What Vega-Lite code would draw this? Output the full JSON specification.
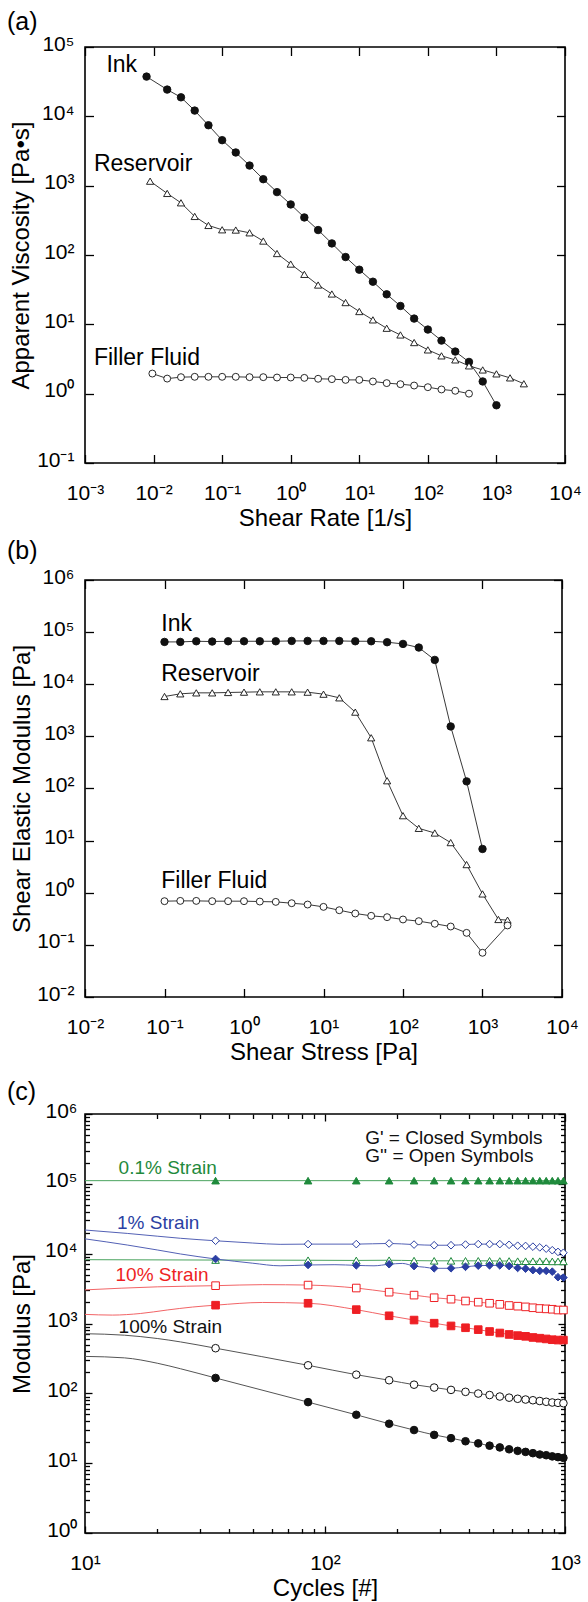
{
"$schema": "https://vega.github.io/schema/vega-lite/v6.json",
"autosize": {"type": "none"},
"padding": {"left": 85, "top": 47, "right": 503, "bottom": 1555},
"background": "white",
"config": {
  "font": "Liberation Sans",
  "view": {"stroke": "black", "strokeWidth": 1.6},
  "axis": {"grid": false, "domain": false, "tickColor": "black", "tickWidth": 1.3, "labelColor": "black", "titleColor": "black", "labelFont": "Liberation Sans", "titleFont": "Liberation Sans", "labelFontSize": 21, "titleFontSize": 24, "titleFontWeight": "normal", "labelFlush": false, "labelOverlap": false, "labelBound": false},
  "title": {"font": "Liberation Sans", "fontSize": 25, "fontWeight": "normal", "color": "black"}
},
"datasets": {
"a": [
{"s":"Ink","x":0.0079,"y":37400},{"s":"Ink","x":0.0158,"y":24300},{"s":"Ink","x":0.0251,"y":18800},{"s":"Ink","x":0.0398,"y":12100},{"s":"Ink","x":0.0631,"y":7440},{"s":"Ink","x":0.1,"y":4530},{"s":"Ink","x":0.158,"y":3010},{"s":"Ink","x":0.251,"y":1950},{"s":"Ink","x":0.398,"y":1240},{"s":"Ink","x":0.631,"y":807},{"s":"Ink","x":1,"y":536},{"s":"Ink","x":1.58,"y":348},{"s":"Ink","x":2.51,"y":229},{"s":"Ink","x":3.98,"y":147},{"s":"Ink","x":6.31,"y":93.5},{"s":"Ink","x":10,"y":61.4},{"s":"Ink","x":15.8,"y":41.2},{"s":"Ink","x":25.1,"y":27.1},{"s":"Ink","x":39.8,"y":18.4},{"s":"Ink","x":63.1,"y":12.1},{"s":"Ink","x":100,"y":8.4},{"s":"Ink","x":158,"y":5.83},{"s":"Ink","x":251,"y":4.05},{"s":"Ink","x":398,"y":2.87},{"s":"Ink","x":631,"y":1.5},{"s":"Ink","x":1000,"y":0.68},
{"s":"Reservoir","x":0.0089,"y":1160},{"s":"Reservoir","x":0.0158,"y":773},{"s":"Reservoir","x":0.0251,"y":566},{"s":"Reservoir","x":0.0398,"y":360},{"s":"Reservoir","x":0.0631,"y":267},{"s":"Reservoir","x":0.1,"y":231},{"s":"Reservoir","x":0.158,"y":229},{"s":"Reservoir","x":0.251,"y":209},{"s":"Reservoir","x":0.398,"y":159},{"s":"Reservoir","x":0.631,"y":105},{"s":"Reservoir","x":1,"y":74},{"s":"Reservoir","x":1.58,"y":52.6},{"s":"Reservoir","x":2.51,"y":36.9},{"s":"Reservoir","x":3.98,"y":27.4},{"s":"Reservoir","x":6.31,"y":20.6},{"s":"Reservoir","x":10,"y":15.3},{"s":"Reservoir","x":15.8,"y":11.6},{"s":"Reservoir","x":25.1,"y":8.78},{"s":"Reservoir","x":39.8,"y":7.03},{"s":"Reservoir","x":63.1,"y":5.46},{"s":"Reservoir","x":100,"y":4.28},{"s":"Reservoir","x":158,"y":3.51},{"s":"Reservoir","x":251,"y":3.07},{"s":"Reservoir","x":398,"y":2.52},{"s":"Reservoir","x":631,"y":2.2},{"s":"Reservoir","x":1000,"y":1.93},{"s":"Reservoir","x":1580,"y":1.69},{"s":"Reservoir","x":2510,"y":1.39},
{"s":"Filler Fluid","x":0.0096,"y":1.95},{"s":"Filler Fluid","x":0.0158,"y":1.65},{"s":"Filler Fluid","x":0.0251,"y":1.73},{"s":"Filler Fluid","x":0.0398,"y":1.75},{"s":"Filler Fluid","x":0.0631,"y":1.75},{"s":"Filler Fluid","x":0.1,"y":1.75},{"s":"Filler Fluid","x":0.158,"y":1.75},{"s":"Filler Fluid","x":0.251,"y":1.73},{"s":"Filler Fluid","x":0.398,"y":1.73},{"s":"Filler Fluid","x":0.631,"y":1.71},{"s":"Filler Fluid","x":1,"y":1.71},{"s":"Filler Fluid","x":1.58,"y":1.69},{"s":"Filler Fluid","x":2.51,"y":1.64},{"s":"Filler Fluid","x":3.98,"y":1.62},{"s":"Filler Fluid","x":6.31,"y":1.58},{"s":"Filler Fluid","x":10,"y":1.58},{"s":"Filler Fluid","x":15.8,"y":1.5},{"s":"Filler Fluid","x":25.1,"y":1.42},{"s":"Filler Fluid","x":39.8,"y":1.37},{"s":"Filler Fluid","x":63.1,"y":1.31},{"s":"Filler Fluid","x":100,"y":1.24},{"s":"Filler Fluid","x":158,"y":1.15},{"s":"Filler Fluid","x":251,"y":1.1},{"s":"Filler Fluid","x":398,"y":1.0}
],
"b": [
{"s":"Ink","x":0.1,"y":64900},{"s":"Ink","x":0.158,"y":64900},{"s":"Ink","x":0.251,"y":66800},{"s":"Ink","x":0.398,"y":65900},{"s":"Ink","x":0.631,"y":66800},{"s":"Ink","x":1,"y":66800},{"s":"Ink","x":1.58,"y":66800},{"s":"Ink","x":2.51,"y":66800},{"s":"Ink","x":3.98,"y":67800},{"s":"Ink","x":6.31,"y":67800},{"s":"Ink","x":10,"y":67800},{"s":"Ink","x":15.8,"y":67800},{"s":"Ink","x":25.1,"y":66800},{"s":"Ink","x":39.8,"y":66800},{"s":"Ink","x":63.1,"y":64000},{"s":"Ink","x":100,"y":59400},{"s":"Ink","x":158,"y":50600},{"s":"Ink","x":251,"y":29300},{"s":"Ink","x":398,"y":1550},{"s":"Ink","x":631,"y":137},{"s":"Ink","x":1000,"y":6.92},
{"s":"Reservoir","x":0.1,"y":5820},{"s":"Reservoir","x":0.158,"y":6550},{"s":"Reservoir","x":0.251,"y":6840},{"s":"Reservoir","x":0.398,"y":6840},{"s":"Reservoir","x":0.631,"y":6950},{"s":"Reservoir","x":1,"y":7050},{"s":"Reservoir","x":1.58,"y":7150},{"s":"Reservoir","x":2.51,"y":7150},{"s":"Reservoir","x":3.98,"y":7150},{"s":"Reservoir","x":6.31,"y":7050},{"s":"Reservoir","x":10,"y":6450},{"s":"Reservoir","x":15.8,"y":5490},{"s":"Reservoir","x":25.1,"y":2920},{"s":"Reservoir","x":39.8,"y":940},{"s":"Reservoir","x":63.1,"y":141},{"s":"Reservoir","x":100,"y":30.1},{"s":"Reservoir","x":158,"y":17.2},{"s":"Reservoir","x":251,"y":14.0},{"s":"Reservoir","x":398,"y":9.16},{"s":"Reservoir","x":631,"y":3.47},{"s":"Reservoir","x":1000,"y":0.95},{"s":"Reservoir","x":1585,"y":0.307},{"s":"Reservoir","x":2065,"y":0.298},
{"s":"Filler Fluid","x":0.1,"y":0.689},{"s":"Filler Fluid","x":0.158,"y":0.698},{"s":"Filler Fluid","x":0.251,"y":0.698},{"s":"Filler Fluid","x":0.398,"y":0.689},{"s":"Filler Fluid","x":0.631,"y":0.689},{"s":"Filler Fluid","x":1,"y":0.689},{"s":"Filler Fluid","x":1.58,"y":0.678},{"s":"Filler Fluid","x":2.51,"y":0.668},{"s":"Filler Fluid","x":3.98,"y":0.63},{"s":"Filler Fluid","x":6.31,"y":0.594},{"s":"Filler Fluid","x":10,"y":0.536},{"s":"Filler Fluid","x":15.8,"y":0.462},{"s":"Filler Fluid","x":25.1,"y":0.4},{"s":"Filler Fluid","x":39.8,"y":0.361},{"s":"Filler Fluid","x":63.1,"y":0.34},{"s":"Filler Fluid","x":100,"y":0.307},{"s":"Filler Fluid","x":158,"y":0.285},{"s":"Filler Fluid","x":251,"y":0.254},{"s":"Filler Fluid","x":398,"y":0.225},{"s":"Filler Fluid","x":631,"y":0.17},{"s":"Filler Fluid","x":1000,"y":0.0705},{"s":"Filler Fluid","x":2065,"y":0.236}
],
"la": [
{"t":"Ink","x":0.00205,"y":55100},{"t":"Reservoir","x":0.00135,"y":2020},{"t":"Filler Fluid","x":0.00135,"y":3.24}
],
"lb": [
{"t":"Ink","x":0.091,"y":143600},{"t":"Reservoir","x":0.091,"y":15600},{"t":"Filler Fluid","x":0.091,"y":1.66}
],
"lc": [
{"t":"0.1% Strain","st":"0.1%","x":13.8,"y":169000},{"t":"1% Strain","st":"1%","x":13.6,"y":27500},{"t":"10% Strain","st":"10%","x":13.4,"y":5000},{"t":"100% Strain","st":"100%","x":13.8,"y":902}
],
"lg": [
{"t":"G'  = Closed Symbols","x":147,"y":460000},{"t":"G'' = Open Symbols","x":147,"y":250000}
],
"c": [
{"st":"0.1%","g":"G1","x":10,"y":111000,"m":0},{"st":"0.1%","g":"G1","x":35,"y":111000,"m":1},{"st":"0.1%","g":"G1","x":85,"y":111000,"m":1},{"st":"0.1%","g":"G1","x":135,"y":111000,"m":1},{"st":"0.1%","g":"G1","x":185,"y":111000,"m":1},{"st":"0.1%","g":"G1","x":235,"y":111000,"m":1},{"st":"0.1%","g":"G1","x":285,"y":111000,"m":1},{"st":"0.1%","g":"G1","x":335,"y":111000,"m":1},{"st":"0.1%","g":"G1","x":385,"y":111000,"m":1},{"st":"0.1%","g":"G1","x":435,"y":111000,"m":1},{"st":"0.1%","g":"G1","x":485,"y":111000,"m":1},{"st":"0.1%","g":"G1","x":535,"y":111000,"m":1},{"st":"0.1%","g":"G1","x":585,"y":111000,"m":1},{"st":"0.1%","g":"G1","x":635,"y":111000,"m":1},{"st":"0.1%","g":"G1","x":685,"y":111000,"m":1},{"st":"0.1%","g":"G1","x":735,"y":111000,"m":1},{"st":"0.1%","g":"G1","x":785,"y":111000,"m":1},{"st":"0.1%","g":"G1","x":835,"y":111000,"m":1},{"st":"0.1%","g":"G1","x":885,"y":111000,"m":1},{"st":"0.1%","g":"G1","x":935,"y":111000,"m":1},{"st":"0.1%","g":"G1","x":985,"y":111000,"m":1},{"st":"0.1%","g":"G1","x":1000,"y":111000,"m":0},
{"st":"0.1%","g":"G2","x":10,"y":8200,"m":0},{"st":"0.1%","g":"G2","x":35,"y":8100,"m":1},{"st":"0.1%","g":"G2","x":85,"y":8050,"m":1},{"st":"0.1%","g":"G2","x":135,"y":8000,"m":1},{"st":"0.1%","g":"G2","x":185,"y":8050,"m":1},{"st":"0.1%","g":"G2","x":235,"y":7950,"m":1},{"st":"0.1%","g":"G2","x":285,"y":7900,"m":1},{"st":"0.1%","g":"G2","x":335,"y":7900,"m":1},{"st":"0.1%","g":"G2","x":385,"y":7900,"m":1},{"st":"0.1%","g":"G2","x":435,"y":7900,"m":1},{"st":"0.1%","g":"G2","x":485,"y":7900,"m":1},{"st":"0.1%","g":"G2","x":535,"y":7850,"m":1},{"st":"0.1%","g":"G2","x":585,"y":7850,"m":1},{"st":"0.1%","g":"G2","x":635,"y":7800,"m":1},{"st":"0.1%","g":"G2","x":685,"y":7800,"m":1},{"st":"0.1%","g":"G2","x":735,"y":7800,"m":1},{"st":"0.1%","g":"G2","x":785,"y":7800,"m":1},{"st":"0.1%","g":"G2","x":835,"y":7800,"m":1},{"st":"0.1%","g":"G2","x":885,"y":7750,"m":1},{"st":"0.1%","g":"G2","x":935,"y":7750,"m":1},{"st":"0.1%","g":"G2","x":985,"y":7750,"m":1},{"st":"0.1%","g":"G2","x":1000,"y":7750,"m":0},
{"st":"1%","g":"G2","x":10,"y":21800,"m":0},{"st":"1%","g":"G2","x":15,"y":19500,"m":0},{"st":"1%","g":"G2","x":20,"y":17800,"m":0},{"st":"1%","g":"G2","x":25,"y":16600,"m":0},{"st":"1%","g":"G2","x":35,"y":15300,"m":1},{"st":"1%","g":"G2","x":50,"y":14200,"m":0},{"st":"1%","g":"G2","x":65,"y":13600,"m":0},{"st":"1%","g":"G2","x":85,"y":13700,"m":1},{"st":"1%","g":"G2","x":135,"y":13700,"m":1},{"st":"1%","g":"G2","x":185,"y":14000,"m":1},{"st":"1%","g":"G2","x":235,"y":13500,"m":1},{"st":"1%","g":"G2","x":285,"y":13200,"m":1},{"st":"1%","g":"G2","x":335,"y":13200,"m":1},{"st":"1%","g":"G2","x":385,"y":13500,"m":1},{"st":"1%","g":"G2","x":435,"y":13700,"m":1},{"st":"1%","g":"G2","x":485,"y":13700,"m":1},{"st":"1%","g":"G2","x":535,"y":13700,"m":1},{"st":"1%","g":"G2","x":585,"y":13400,"m":1},{"st":"1%","g":"G2","x":635,"y":13000,"m":1},{"st":"1%","g":"G2","x":685,"y":12900,"m":1},{"st":"1%","g":"G2","x":735,"y":12600,"m":1},{"st":"1%","g":"G2","x":785,"y":12300,"m":1},{"st":"1%","g":"G2","x":835,"y":11800,"m":1},{"st":"1%","g":"G2","x":885,"y":11200,"m":1},{"st":"1%","g":"G2","x":935,"y":10600,"m":1},{"st":"1%","g":"G2","x":985,"y":10300,"m":1},{"st":"1%","g":"G2","x":1000,"y":10200,"m":0},
{"st":"1%","g":"G1","x":10,"y":16300,"m":0},{"st":"1%","g":"G1","x":15,"y":13300,"m":0},{"st":"1%","g":"G1","x":20,"y":11300,"m":0},{"st":"1%","g":"G1","x":25,"y":9900,"m":0},{"st":"1%","g":"G1","x":35,"y":8400,"m":1},{"st":"1%","g":"G1","x":50,"y":7300,"m":0},{"st":"1%","g":"G1","x":65,"y":6700,"m":0},{"st":"1%","g":"G1","x":85,"y":6890,"m":1},{"st":"1%","g":"G1","x":110,"y":6950,"m":0},{"st":"1%","g":"G1","x":135,"y":6800,"m":1},{"st":"1%","g":"G1","x":160,"y":6700,"m":0},{"st":"1%","g":"G1","x":185,"y":7060,"m":1},{"st":"1%","g":"G1","x":210,"y":7250,"m":0},{"st":"1%","g":"G1","x":235,"y":6640,"m":1},{"st":"1%","g":"G1","x":260,"y":6400,"m":0},{"st":"1%","g":"G1","x":285,"y":6170,"m":1},{"st":"1%","g":"G1","x":335,"y":6170,"m":1},{"st":"1%","g":"G1","x":385,"y":6480,"m":1},{"st":"1%","g":"G1","x":435,"y":6730,"m":1},{"st":"1%","g":"G1","x":485,"y":6800,"m":1},{"st":"1%","g":"G1","x":535,"y":6800,"m":1},{"st":"1%","g":"G1","x":585,"y":6640,"m":1},{"st":"1%","g":"G1","x":635,"y":6250,"m":1},{"st":"1%","g":"G1","x":685,"y":6100,"m":1},{"st":"1%","g":"G1","x":735,"y":5810,"m":1},{"st":"1%","g":"G1","x":785,"y":5670,"m":1},{"st":"1%","g":"G1","x":835,"y":5670,"m":1},{"st":"1%","g":"G1","x":885,"y":5530,"m":1},{"st":"1%","g":"G1","x":935,"y":4600,"m":1},{"st":"1%","g":"G1","x":985,"y":4540,"m":1},{"st":"1%","g":"G1","x":1000,"y":4500,"m":0},
{"st":"10%","g":"G2","x":10,"y":3030,"m":0},{"st":"10%","g":"G2","x":20,"y":3350,"m":0},{"st":"10%","g":"G2","x":35,"y":3480,"m":1},{"st":"10%","g":"G2","x":55,"y":3600,"m":0},{"st":"10%","g":"G2","x":85,"y":3550,"m":1},{"st":"10%","g":"G2","x":135,"y":3220,"m":1},{"st":"10%","g":"G2","x":185,"y":2810,"m":1},{"st":"10%","g":"G2","x":235,"y":2550,"m":1},{"st":"10%","g":"G2","x":285,"y":2340,"m":1},{"st":"10%","g":"G2","x":335,"y":2230,"m":1},{"st":"10%","g":"G2","x":385,"y":2100,"m":1},{"st":"10%","g":"G2","x":435,"y":2020,"m":1},{"st":"10%","g":"G2","x":485,"y":1950,"m":1},{"st":"10%","g":"G2","x":535,"y":1880,"m":1},{"st":"10%","g":"G2","x":585,"y":1810,"m":1},{"st":"10%","g":"G2","x":635,"y":1770,"m":1},{"st":"10%","g":"G2","x":685,"y":1730,"m":1},{"st":"10%","g":"G2","x":735,"y":1680,"m":1},{"st":"10%","g":"G2","x":785,"y":1640,"m":1},{"st":"10%","g":"G2","x":835,"y":1620,"m":1},{"st":"10%","g":"G2","x":885,"y":1600,"m":1},{"st":"10%","g":"G2","x":935,"y":1560,"m":1},{"st":"10%","g":"G2","x":985,"y":1560,"m":1},{"st":"10%","g":"G2","x":1000,"y":1550,"m":0},
{"st":"10%","g":"G1","x":10,"y":1350,"m":0},{"st":"10%","g":"G1","x":13,"y":1320,"m":0},{"st":"10%","g":"G1","x":17,"y":1390,"m":0},{"st":"10%","g":"G1","x":22,"y":1560,"m":0},{"st":"10%","g":"G1","x":28,"y":1720,"m":0},{"st":"10%","g":"G1","x":35,"y":1830,"m":1},{"st":"10%","g":"G1","x":55,"y":2000,"m":0},{"st":"10%","g":"G1","x":85,"y":1950,"m":1},{"st":"10%","g":"G1","x":135,"y":1580,"m":1},{"st":"10%","g":"G1","x":185,"y":1290,"m":1},{"st":"10%","g":"G1","x":235,"y":1120,"m":1},{"st":"10%","g":"G1","x":285,"y":1010,"m":1},{"st":"10%","g":"G1","x":335,"y":923,"m":1},{"st":"10%","g":"G1","x":385,"y":869,"m":1},{"st":"10%","g":"G1","x":435,"y":817,"m":1},{"st":"10%","g":"G1","x":485,"y":768,"m":1},{"st":"10%","g":"G1","x":535,"y":731,"m":1},{"st":"10%","g":"G1","x":585,"y":697,"m":1},{"st":"10%","g":"G1","x":635,"y":671,"m":1},{"st":"10%","g":"G1","x":685,"y":655,"m":1},{"st":"10%","g":"G1","x":735,"y":631,"m":1},{"st":"10%","g":"G1","x":785,"y":616,"m":1},{"st":"10%","g":"G1","x":835,"y":601,"m":1},{"st":"10%","g":"G1","x":885,"y":586,"m":1},{"st":"10%","g":"G1","x":935,"y":579,"m":1},{"st":"10%","g":"G1","x":985,"y":579,"m":1},{"st":"10%","g":"G1","x":1000,"y":577,"m":0},
{"st":"100%","g":"G2","x":10,"y":714,"m":0},{"st":"100%","g":"G2","x":14.6,"y":680,"m":0},{"st":"100%","g":"G2","x":20,"y":610,"m":0},{"st":"100%","g":"G2","x":25,"y":545,"m":0},{"st":"100%","g":"G2","x":35,"y":443,"m":1},{"st":"100%","g":"G2","x":85,"y":252,"m":1},{"st":"100%","g":"G2","x":135,"y":185,"m":1},{"st":"100%","g":"G2","x":185,"y":154,"m":1},{"st":"100%","g":"G2","x":235,"y":133,"m":1},{"st":"100%","g":"G2","x":285,"y":121,"m":1},{"st":"100%","g":"G2","x":335,"y":112,"m":1},{"st":"100%","g":"G2","x":385,"y":105,"m":1},{"st":"100%","g":"G2","x":435,"y":99.3,"m":1},{"st":"100%","g":"G2","x":485,"y":94.5,"m":1},{"st":"100%","g":"G2","x":535,"y":90,"m":1},{"st":"100%","g":"G2","x":585,"y":86.7,"m":1},{"st":"100%","g":"G2","x":635,"y":83.6,"m":1},{"st":"100%","g":"G2","x":685,"y":81.5,"m":1},{"st":"100%","g":"G2","x":735,"y":79.6,"m":1},{"st":"100%","g":"G2","x":785,"y":77.6,"m":1},{"st":"100%","g":"G2","x":835,"y":75.7,"m":1},{"st":"100%","g":"G2","x":885,"y":73.9,"m":1},{"st":"100%","g":"G2","x":935,"y":73.1,"m":1},{"st":"100%","g":"G2","x":985,"y":72.2,"m":1},{"st":"100%","g":"G2","x":1000,"y":72,"m":0},
{"st":"100%","g":"G1","x":10,"y":338,"m":0},{"st":"100%","g":"G1","x":14.6,"y":322,"m":0},{"st":"100%","g":"G1","x":20,"y":270,"m":0},{"st":"100%","g":"G1","x":25,"y":225,"m":0},{"st":"100%","g":"G1","x":35,"y":166,"m":1},{"st":"100%","g":"G1","x":85,"y":74.8,"m":1},{"st":"100%","g":"G1","x":135,"y":49.3,"m":1},{"st":"100%","g":"G1","x":185,"y":36.7,"m":1},{"st":"100%","g":"G1","x":235,"y":29.8,"m":1},{"st":"100%","g":"G1","x":285,"y":25.4,"m":1},{"st":"100%","g":"G1","x":335,"y":22.8,"m":1},{"st":"100%","g":"G1","x":385,"y":20.6,"m":1},{"st":"100%","g":"G1","x":435,"y":19.2,"m":1},{"st":"100%","g":"G1","x":485,"y":17.8,"m":1},{"st":"100%","g":"G1","x":535,"y":16.8,"m":1},{"st":"100%","g":"G1","x":585,"y":15.8,"m":1},{"st":"100%","g":"G1","x":635,"y":15,"m":1},{"st":"100%","g":"G1","x":685,"y":14.5,"m":1},{"st":"100%","g":"G1","x":735,"y":13.9,"m":1},{"st":"100%","g":"G1","x":785,"y":13.3,"m":1},{"st":"100%","g":"G1","x":835,"y":13,"m":1},{"st":"100%","g":"G1","x":885,"y":12.5,"m":1},{"st":"100%","g":"G1","x":935,"y":12.2,"m":1},{"st":"100%","g":"G1","x":985,"y":11.9,"m":1},{"st":"100%","g":"G1","x":1000,"y":11.8,"m":0}
]
},
"spacing": 117,
"bounds": "flush",
"resolve": {"scale": {"shape": "independent", "fill": "independent", "stroke": "independent", "size": "independent", "color": "independent"}},
"vconcat": [
{
  "width": 480, "height": 416,
  "title": {"text": "(a)", "anchor": "start", "frame": "group", "dx": -78, "offset": -22, "baseline": "alphabetic"},
  "resolve": {"axis": {"x": "independent", "y": "independent"}},
  "layer": [
    {
      "data": {"name": "a"},
      "mark": {"type": "line", "color": "#222", "strokeWidth": 0.9},
      "encoding": {
        "x": {"field": "x", "type": "quantitative", "scale": {"type": "log", "domain": [0.001, 10000]},
          "axis": {"orient": "bottom", "values": [0.001, 0.01, 0.1, 1, 10, 100, 1000, 10000], "tickSize": -8.5, "labelPadding": 28, "labelExpr": "'10' + replace(replace(replace(replace(replace(replace(replace(replace('' + round(log(datum.value)/LN10), '-', '⁻'), '0', '⁰'), '1', '¹'), '2', '²'), '3', '³'), '4', '⁴'), '5', '⁵'), '6', '⁶')", "title": "Shear Rate [1/s]", "titleY": 62.5, "titleBaseline": "alphabetic"}},
        "y": {"field": "y", "type": "quantitative", "scale": {"type": "log", "domain": [0.1, 100000]},
          "axis": {"orient": "left", "values": [0.1, 1, 10, 100, 1000, 10000, 100000], "tickSize": -8.5, "labelPadding": 19.5, "labelOffset": -3, "labelExpr": "'10' + replace(replace(replace(replace(replace(replace(replace(replace('' + round(log(datum.value)/LN10), '-', '⁻'), '0', '⁰'), '1', '¹'), '2', '²'), '3', '³'), '4', '⁴'), '5', '⁵'), '6', '⁶')", "title": "Apparent Viscosity [Pa•s]", "titleX": -56.7, "titleBaseline": "alphabetic"}},
        "detail": {"field": "s"}
      }
    },
    {
      "data": {"name": "a"},
      "mark": {"type": "point", "opacity": 1, "stroke": "#111", "strokeWidth": 0.9},
      "encoding": {
        "x": {"field": "x", "type": "quantitative", "scale": {"type": "log", "domain": [0.001, 10000]},
          "axis": {"orient": "top", "values": [0.001, 0.01, 0.1, 1, 10, 100, 1000, 10000], "tickSize": -8.5, "labels": false, "title": null}},
        "y": {"field": "y", "type": "quantitative", "scale": {"type": "log", "domain": [0.1, 100000]},
          "axis": {"orient": "right", "values": [0.1, 1, 10, 100, 1000, 10000, 100000], "tickSize": -8.5, "labels": false, "title": null}},
        "shape": {"field": "s", "type": "nominal", "scale": {"domain": ["Ink", "Reservoir", "Filler Fluid"], "range": ["circle", "triangle-up", "circle"]}, "legend": null},
        "fill": {"field": "s", "type": "nominal", "scale": {"domain": ["Ink", "Reservoir", "Filler Fluid"], "range": ["#111", "white", "white"]}, "legend": null},
        "size": {"field": "s", "type": "ordinal", "scale": {"domain": ["Ink", "Reservoir", "Filler Fluid"], "range": [56, 48, 38]}, "legend": null}
      }
    },
    {
      "data": {"name": "la"},
      "mark": {"type": "text", "align": "left", "baseline": "middle", "fontSize": 23, "color": "black"},
      "encoding": {
        "x": {"field": "x", "type": "quantitative", "axis": null},
        "y": {"field": "y", "type": "quantitative", "axis": null},
        "text": {"field": "t"}
      }
    }
  ]
},
{
  "width": 477, "height": 417,
  "title": {"text": "(b)", "anchor": "start", "frame": "group", "dx": -78, "offset": -18, "baseline": "alphabetic"},
  "resolve": {"axis": {"x": "independent", "y": "independent"}},
  "layer": [
    {
      "data": {"name": "b"},
      "mark": {"type": "line", "color": "#222", "strokeWidth": 0.9},
      "encoding": {
        "x": {"field": "x", "type": "quantitative", "scale": {"type": "log", "domain": [0.01, 10000]},
          "axis": {"orient": "bottom", "values": [0.01, 0.1, 1, 10, 100, 1000, 10000], "tickSize": -8.5, "labelPadding": 28, "labelExpr": "'10' + replace(replace(replace(replace(replace(replace(replace(replace('' + round(log(datum.value)/LN10), '-', '⁻'), '0', '⁰'), '1', '¹'), '2', '²'), '3', '³'), '4', '⁴'), '5', '⁵'), '6', '⁶')", "title": "Shear Stress [Pa]", "titleY": 62.5, "titleBaseline": "alphabetic"}},
        "y": {"field": "y", "type": "quantitative", "scale": {"type": "log", "domain": [0.01, 1000000]},
          "axis": {"orient": "left", "values": [0.01, 0.1, 1, 10, 100, 1000, 10000, 100000, 1000000], "tickSize": -8.5, "labelPadding": 19.5, "labelOffset": -3, "labelExpr": "'10' + replace(replace(replace(replace(replace(replace(replace(replace('' + round(log(datum.value)/LN10), '-', '⁻'), '0', '⁰'), '1', '¹'), '2', '²'), '3', '³'), '4', '⁴'), '5', '⁵'), '6', '⁶')", "title": "Shear Elastic Modulus [Pa]", "titleX": -55.7, "titleBaseline": "alphabetic"}},
        "detail": {"field": "s"}
      }
    },
    {
      "data": {"name": "b"},
      "mark": {"type": "point", "opacity": 1, "stroke": "#111", "strokeWidth": 0.9},
      "encoding": {
        "x": {"field": "x", "type": "quantitative", "scale": {"type": "log", "domain": [0.01, 10000]},
          "axis": {"orient": "top", "values": [0.01, 0.1, 1, 10, 100, 1000, 10000], "tickSize": -8.5, "labels": false, "title": null}},
        "y": {"field": "y", "type": "quantitative", "scale": {"type": "log", "domain": [0.01, 1000000]},
          "axis": {"orient": "right", "values": [0.01, 0.1, 1, 10, 100, 1000, 10000, 100000, 1000000], "tickSize": -8.5, "labels": false, "title": null}},
        "shape": {"field": "s", "type": "nominal", "scale": {"domain": ["Ink", "Reservoir", "Filler Fluid"], "range": ["circle", "triangle-up", "circle"]}, "legend": null},
        "fill": {"field": "s", "type": "nominal", "scale": {"domain": ["Ink", "Reservoir", "Filler Fluid"], "range": ["#111", "white", "white"]}, "legend": null},
        "size": {"field": "s", "type": "ordinal", "scale": {"domain": ["Ink", "Reservoir", "Filler Fluid"], "range": [56, 48, 38]}, "legend": null}
      }
    },
    {
      "data": {"name": "lb"},
      "mark": {"type": "text", "align": "left", "baseline": "middle", "fontSize": 23, "color": "black"},
      "encoding": {
        "x": {"field": "x", "type": "quantitative", "axis": null},
        "y": {"field": "y", "type": "quantitative", "axis": null},
        "text": {"field": "t"}
      }
    }
  ]
},
{
  "width": 480, "height": 419,
  "title": {"text": "(c)", "anchor": "start", "frame": "group", "dx": -78, "offset": -25, "baseline": "alphabetic"},
  "resolve": {"axis": {"x": "independent", "y": "independent"}},
  "layer": [
    {
      "data": {"name": "c"},
      "mark": {"type": "line", "strokeWidth": 1, "interpolate": "monotone"},
      "encoding": {
        "x": {"field": "x", "type": "quantitative", "scale": {"type": "log", "domain": [10, 1000]},
          "axis": {"orient": "bottom", "values": [10, 100, 1000], "tickSize": -7, "labelPadding": 26.5, "labelExpr": "'10' + replace(replace(replace(replace(replace(replace(replace(replace('' + round(log(datum.value)/LN10), '-', '⁻'), '0', '⁰'), '1', '¹'), '2', '²'), '3', '³'), '4', '⁴'), '5', '⁵'), '6', '⁶')", "title": "Cycles [#]", "titleY": 62.5, "titleBaseline": "alphabetic"}},
        "y": {"field": "y", "type": "quantitative", "scale": {"type": "log", "domain": [1, 1000000]},
          "axis": {"orient": "left", "values": [1, 10, 100, 1000, 10000, 100000, 1000000], "tickSize": -7, "labelPadding": 15, "labelOffset": -3, "labelExpr": "'10' + replace(replace(replace(replace(replace(replace(replace(replace('' + round(log(datum.value)/LN10), '-', '⁻'), '0', '⁰'), '1', '¹'), '2', '²'), '3', '³'), '4', '⁴'), '5', '⁵'), '6', '⁶')", "title": "Modulus [Pa]", "titleX": -56, "titleBaseline": "alphabetic"}},
        "color": {"field": "st", "type": "nominal", "scale": {"domain": ["0.1%", "1%", "10%", "100%"], "range": ["#4aa35e", "#5361b5", "#f26466", "#555555"]}, "legend": null},
        "detail": {"field": "g"}
      }
    },
    {
      "data": {"name": "c"},
      "transform": [{"filter": "datum.m == 1"}],
      "mark": {"type": "point", "opacity": 1, "strokeWidth": 1, "size": 58},
      "encoding": {
        "x": {"field": "x", "type": "quantitative", "scale": {"type": "log", "domain": [10, 1000]},
          "axis": {"orient": "bottom", "values": [20, 30, 40, 50, 60, 70, 80, 90, 200, 300, 400, 500, 600, 700, 800, 900], "tickSize": -4.5, "labels": false, "title": null}},
        "y": {"field": "y", "type": "quantitative", "scale": {"type": "log", "domain": [1, 1000000]},
          "axis": {"orient": "left", "values": [2,3,4,5,6,7,8,9,20,30,40,50,60,70,80,90,200,300,400,500,600,700,800,900,2000,3000,4000,5000,6000,7000,8000,9000,20000,30000,40000,50000,60000,70000,80000,90000,200000,300000,400000,500000,600000,700000,800000,900000], "tickSize": -4.5, "labels": false, "title": null}},
        "shape": {"field": "st", "type": "nominal", "scale": {"domain": ["0.1%", "1%", "10%", "100%"], "range": ["triangle-up", "diamond", "square", "circle"]}, "legend": null},
        "stroke": {"field": "st", "type": "nominal", "scale": {"domain": ["0.1%", "1%", "10%", "100%"], "range": ["#1f8a3c", "#2b3fa3", "#ee1f24", "#111111"]}, "legend": null},
        "fill": {"condition": {"test": "datum.g == 'G2'", "value": "white"}, "field": "st", "type": "nominal", "scale": {"domain": ["0.1%", "1%", "10%", "100%"], "range": ["#1f8a3c", "#2b3fa3", "#ee1f24", "#111111"]}, "legend": null}
      }
    },
    {
      "data": {"name": "lc"},
      "mark": {"type": "text", "align": "left", "baseline": "middle", "fontSize": 19},
      "encoding": {
        "x": {"field": "x", "type": "quantitative", "scale": {"type": "log", "domain": [10, 1000]},
          "axis": {"orient": "top", "values": [10, 100, 1000], "tickSize": -7, "labels": false, "title": null}},
        "y": {"field": "y", "type": "quantitative", "scale": {"type": "log", "domain": [1, 1000000]},
          "axis": {"orient": "right", "values": [1, 10, 100, 1000, 10000, 100000, 1000000], "tickSize": -7, "labels": false, "title": null}},
        "fill": {"field": "st", "type": "nominal", "legend": null},
        "text": {"field": "t"}
      }
    },
    {
      "data": {"name": "lg"},
      "mark": {"type": "text", "align": "left", "baseline": "middle", "fontSize": 19, "color": "#111"},
      "encoding": {
        "x": {"field": "x", "type": "quantitative", "scale": {"type": "log", "domain": [10, 1000]},
          "axis": {"orient": "top", "values": [20, 30, 40, 50, 60, 70, 80, 90, 200, 300, 400, 500, 600, 700, 800, 900], "tickSize": -4.5, "labels": false, "title": null}},
        "y": {"field": "y", "type": "quantitative", "scale": {"type": "log", "domain": [1, 1000000]},
          "axis": {"orient": "right", "values": [2,3,4,5,6,7,8,9,20,30,40,50,60,70,80,90,200,300,400,500,600,700,800,900,2000,3000,4000,5000,6000,7000,8000,9000,20000,30000,40000,50000,60000,70000,80000,90000,200000,300000,400000,500000,600000,700000,800000,900000], "tickSize": -4.5, "labels": false, "title": null}},
        "text": {"field": "t"}
      }
    }
  ]
}
]
}
